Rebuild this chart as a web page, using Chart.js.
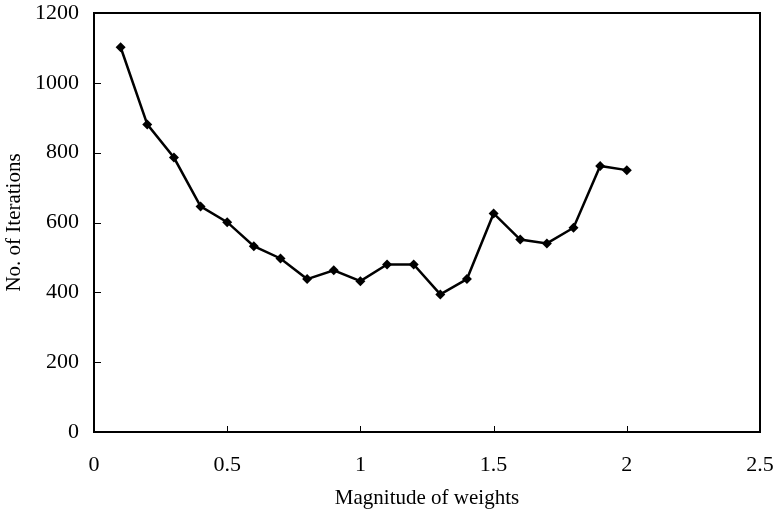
<!DOCTYPE html>
<html>
<head>
<meta charset="utf-8">
<script src="https://cdn.jsdelivr.net/npm/chart.js@4"></script>
<style>
html,body{margin:0;padding:0;background:#fff;}
#wrap{width:776px;height:514px;}
</style>
</head>
<body>
<div id="wrap"><canvas id="c" width="776" height="514"></canvas></div>
<script>
const weights = [0.1,0.2,0.3,0.4,0.5,0.6,0.7,0.8,0.9,1.0,1.1,1.2,1.3,1.4,1.5,1.6,1.7,1.8,1.9,2.0];
const iterations = [1102,881,786,646,601,532,497,438,463,432,480,480,394,438,626,551,540,585,762,750];
const xTicks = [0,0.5,1,1.5,2,2.5];
const yTicks = [0,200,400,600,800,1000,1200];

const FONT = "'Liberation Serif','Times New Roman',serif";

const frameTicks = {
  id:'frameTicks',
  afterDatasetsDraw(chart){
    const {ctx, chartArea:a, scales:{x,y}} = chart;
    ctx.save();
    ctx.strokeStyle='#000';
    ctx.lineWidth=1;
    ctx.beginPath();
    xTicks.forEach(v=>{
      const px=Math.round(x.getPixelForValue(v))+0.5;
      ctx.moveTo(px,a.bottom); ctx.lineTo(px,a.bottom-6);
    });
    yTicks.forEach(v=>{
      const py=Math.round(y.getPixelForValue(v))+0.5;
      ctx.moveTo(a.left,py); ctx.lineTo(a.left+7,py);
    });
    ctx.stroke();
    ctx.lineWidth=2;
    ctx.strokeRect(a.left,a.top,a.right-a.left,a.bottom-a.top);
    ctx.restore();
  }
};

new Chart(document.getElementById('c'),{
  type:'line',
  data:{
    datasets:[{
      data: weights.map((w,i)=>({x:w,y:iterations[i]})),
      borderColor:'#000',
      backgroundColor:'#000',
      borderWidth:2.5,
      pointStyle:'rectRot',
      pointRadius:5,
      pointBorderWidth:0,
      tension:0,
      fill:false
    }]
  },
  options:{
    responsive:false,
    animation:false,
    events:[],
    layout:{padding:{top:13,right:16,left:0,bottom:0}},
    plugins:{legend:{display:false},tooltip:{enabled:false}},
    scales:{
      x:{
        type:'linear',min:0,max:2.5,
        afterFit(s){s.height=82;s.paddingLeft=0;s.paddingRight=0;},
        afterBuildTicks(s){s.ticks=xTicks.map(v=>({value:v}));},
        grid:{display:false,drawTicks:false},
        border:{display:false},
        ticks:{color:'#000',padding:20,maxRotation:0,font:{family:FONT,size:22},callback:v=>String(v)},
        title:{display:true,text:'Magnitude of weights',color:'#000',font:{family:FONT,size:21},padding:{top:0,bottom:3}}
      },
      y:{
        min:0,max:1200,
        afterFit(s){s.width=94;s.paddingTop=0;s.paddingBottom=0;},
        afterBuildTicks(s){s.ticks=yTicks.map(v=>({value:v}));},
        grid:{display:false,drawTicks:false},
        border:{display:false},
        ticks:{color:'#000',padding:15,font:{family:FONT,size:22},callback:v=>String(v)},
        title:{display:true,text:'No. of Iterations',color:'#000',font:{family:FONT,size:21},padding:{top:2,bottom:0}}
      }
    }
  },
  plugins:[frameTicks]
});
</script>
</body>
</html>
